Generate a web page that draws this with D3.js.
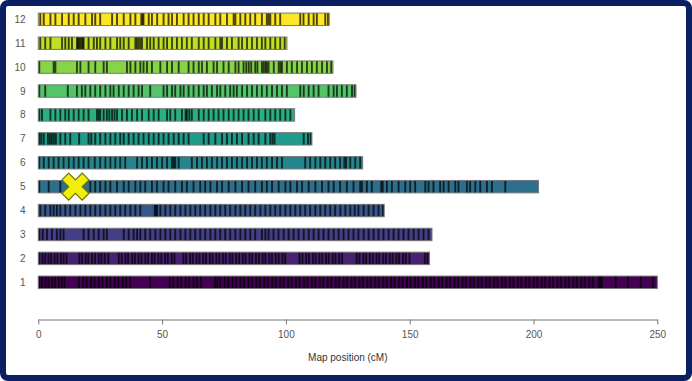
<!DOCTYPE html>
<html>
<head>
<meta charset="utf-8">
<script src="https://cdn.jsdelivr.net/npm/d3@7"></script>
<style>
  html, body { margin: 0; padding: 0; background: #fff; }
  svg { display: block; }
</style>
</head>
<body>
<svg id="chart" width="692" height="381"></svg>
<script>
// ---- data ----
const chromosomes = ["1","2","3","4","5","6","7","8","9","10","11","12"];
const chromLengths = [250, 158, 159, 139.7, 202, 131, 110.5, 103.5, 128.3, 119, 100.4, 117.5];
const axisTicks = [0, 50, 100, 150, 200, 250];
const xTitle = "Map position (cM)";
const qtlMarker = { chrom: "5", pos: 15 };

const markers1 = [0.4,1.5,2.9,4.1,5.6,6.8,8.3,9.5,10.6,16.4,18.1,19.5,21.3,22.7,24.5,25.9,27.7,29.1,30.9,32.3,34.1,35.5,37.1,45.2,53.1,54.5,56.3,57.7,59.5,60.9,62.7,64.1,65.6,71.4,72.3,73.5,75.3,76.7,78.5,79.9,81.7,83.1,84.9,86.3,88.1,89.5,91.3,92.7,94.5,95.9,97.7,99.1,100.9,102.3,104.1,105.5,107.3,108.7,110.5,111.9,113.7,115.1,116.9,118.3,120.1,121.5,123.3,124.7,126.5,127.9,129.7,131.1,132.9,134.3,136.1,137.5,139.3,140.7,142.5,143.9,145.7,147.1,148.9,150.3,152.1,153.5,155.3,156.7,158.5,159.9,161.7,163.1,164.9,166.3,168.1,169.5,171.3,172.7,174.5,175.9,177.7,179.1,180.9,182.3,184.1,185.5,187.3,188.7,190.5,191.9,193.7,195.1,196.9,198.3,200.1,201.5,203.3,204.7,206.5,207.9,209.7,211.1,212.9,214.3,216.1,217.5,219.3,220.7,222.5,223.9,226.4,227.0,227.6,233.2,238.1,243.3,248.2];
const markers2 = [0.4,1.7,2.8,4.1,5.2,6.6,7.7,9.1,10.2,11.4,16.6,17.7,19.1,20.2,21.7,22.9,24.4,25.5,26.8,28.3,32.5,33.7,35.2,36.3,37.9,39.0,40.5,41.7,43.2,44.3,45.9,47.0,48.5,49.7,51.2,52.3,53.9,55.0,58.6,59.7,61.3,62.4,63.9,65.1,66.6,67.7,69.3,70.4,71.9,73.1,74.6,75.7,77.3,78.4,79.9,81.1,82.6,83.7,85.3,86.4,87.9,89.1,90.6,91.7,93.3,94.4,95.9,97.1,98.6,99.7,105.5,106.7,108.2,109.3,110.9,112.0,113.5,114.7,116.2,117.3,118.9,120.0,121.5,122.7,128.6,129.7,131.3,132.4,133.9,135.1,136.6,137.7,139.3,140.4,141.9,143.1,144.6,145.7,147.3,148.4,149.9,156.1,157.2];
const markers3 = [0.4,1.8,3.5,5.5,7.5,8.9,10.2,18.3,20.3,22.4,24.4,26.4,27.7,34.5,36.5,38.5,39.9,41.2,43.2,45.2,47.3,49.3,51.3,53.3,55.3,57.4,59.4,61.4,63.4,65.4,67.4,69.5,71.5,73.5,75.5,77.5,79.6,81.6,83.6,85.6,87.6,90.3,91.7,93.0,95.0,97.0,99.1,101.1,103.1,105.1,107.2,109.2,111.2,113.2,115.2,117.2,119.3,121.3,123.3,125.3,127.3,129.3,131.4,133.4,135.4,137.4,139.4,141.5,143.5,145.5,147.5,149.5,151.6,153.6,155.6,157.6];
const markers4 = [0.8,2.8,4.9,6.2,7.5,8.9,10.9,12.9,15.0,17.0,19.0,21.0,23.0,25.0,27.1,29.1,31.1,33.1,35.1,37.2,39.2,41.2,47.0,47.5,48.0,49.3,51.3,53.3,55.3,57.4,59.4,61.4,63.4,65.4,67.4,69.5,71.5,73.5,75.5,77.5,79.6,81.6,83.6,85.6,87.6,89.7,91.7,93.7,95.7,97.7,99.8,101.8,103.8,105.8,107.8,109.8,111.9,113.9,115.9,117.9,119.9,122.0,124.0,126.0,127.8,129.3,131.4,133.4,135.4,137.4,139.2];
const markers5 = [0.4,4.2,8.9,21.0,23.0,25.0,27.1,29.1,31.8,34.5,36.5,39.2,41.2,43.2,45.9,47.9,50.6,52.6,55.3,58.0,60.0,62.7,65.4,67.4,69.5,72.2,74.2,76.9,79.6,82.3,84.9,87.6,90.3,92.3,94.4,97.1,99.8,101.8,104.5,106.5,109.2,111.9,114.6,117.2,119.3,121.9,124.6,127.3,130.0,130.7,132.7,134.7,138.5,139.1,140.8,142.8,145.5,148.2,150.2,152.2,156.3,157.6,159.6,162.3,163.7,165.7,168.4,169.7,173.1,174.4,176.5,178.5,181.2,183.2,188.6];
const markers6 = [0.4,2.2,4.2,6.2,8.2,10.2,12.3,14.3,16.3,18.3,20.3,22.8,25.0,27.1,29.1,31.1,33.1,35.1,39.9,41.9,43.9,45.9,47.9,50.0,52.0,54.0,54.7,55.3,56.7,62.0,64.1,66.1,68.1,70.1,72.2,74.2,76.2,78.2,80.2,82.3,84.3,86.3,88.3,90.3,92.3,94.4,96.4,98.4,107.8,109.8,111.9,113.9,115.9,117.9,119.9,121.9,123.6,124.3,126.0,128.0,130.0];
const markers7 = [0.4,1.2,2.2,3.9,4.7,5.5,6.3,7.1,8.9,10.9,12.9,16.5,20.3,21.4,23.0,25.0,27.1,29.1,31.1,33.1,34.5,36.5,38.5,40.5,42.5,44.6,46.6,48.6,50.6,52.6,54.7,56.7,58.7,60.7,66.8,68.8,71.5,74.2,76.2,78.2,80.2,82.3,84.9,87.0,89.0,91.7,93.7,94.6,95.4,107.2,108.9,110.0];
const markers8 = [0.4,1.5,4.9,6.9,8.9,10.9,12.3,14.3,16.3,18.3,20.3,23.7,24.4,25.0,26.4,27.7,28.7,29.8,30.8,31.8,33.8,35.8,37.8,39.9,41.9,44.6,46.6,48.6,52.0,53.3,55.3,58.0,59.5,60.0,61.0,62.0,64.8,66.8,68.8,70.8,72.8,74.8,76.9,78.9,80.9,82.9,84.9,87.0,89.0,91.7,93.7,95.7,97.7,99.8,101.8];
const markers9 = [0.4,2.8,11.9,15.6,17.6,19.0,21.0,23.0,25.0,27.1,29.1,30.4,32.5,34.5,36.5,38.5,40.5,41.9,45.2,50.6,52.0,54.0,55.3,57.4,58.7,60.7,62.7,64.8,66.8,68.1,70.1,72.2,73.5,75.5,77.5,78.9,80.2,82.3,84.3,86.3,88.3,90.3,92.3,94.4,96.4,98.4,100.4,105.8,107.2,109.2,111.2,113.2,117.2,119.3,120.6,122.6,124.6,126.7,127.8];
const markers10 = [0.4,6.2,6.9,15.6,17.0,20.3,23.0,26.4,27.7,35.8,37.2,39.2,41.2,42.5,43.9,45.9,49.3,52.0,54.0,56.7,60.7,62.7,64.8,66.1,68.1,70.8,72.2,74.8,76.9,79.6,80.9,82.9,84.0,85.0,86.0,87.6,88.5,90.3,91.0,91.7,92.3,93.0,95.1,97.1,97.8,98.4,100.4,102.4,104.5,106.5,108.5,110.5,112.5,114.6,116.6,118.3];
const markers11 = [0.8,2.8,4.9,9.6,10.9,12.3,13.6,15.6,16.0,16.5,17.0,17.5,18.0,18.3,20.3,22.4,23.7,25.0,27.1,29.1,31.8,33.1,34.5,36.5,39.2,39.8,40.5,41.2,41.9,43.9,45.2,46.6,48.6,50.6,52.0,54.0,56.0,58.0,60.0,62.0,64.8,66.8,68.8,71.5,73.5,74.2,76.2,78.2,80.9,82.3,84.3,86.3,88.3,90.3,91.7,93.7,95.7,97.7,99.5];
const markers12 = [0.8,2.2,4.9,6.9,9.6,12.3,14.3,16.3,19.0,21.7,23.0,25.0,29.8,31.8,34.5,37.2,39.2,41.6,42.1,42.5,44.6,45.9,48.0,50.6,52.6,54.0,56.0,58.7,60.7,62.7,64.8,66.8,68.8,71.5,73.5,76.2,78.9,79.6,81.6,83.6,85.6,87.6,90.3,92.3,93.0,93.7,95.7,97.7,105.8,107.1,109.2,111.2,112.5,115.9,117.0];
const markerSets = [markers1, markers2, markers3, markers4, markers5, markers6, markers7, markers8, markers9, markers10, markers11, markers12];

// ---- layout ----
const W = 692, H = 381;
const svg = d3.select("#chart");
const defs = svg.append("defs");
defs.append("filter").attr("id", "soft")
  .attr("x", "-5%").attr("y", "-20%").attr("width", "110%").attr("height", "140%")
  .append("feGaussianBlur").attr("stdDeviation", 0.55);

// frame
svg.append("rect")
  .attr("x", 3).attr("y", 3).attr("width", W - 6).attr("height", H - 6)
  .attr("rx", 5).attr("ry", 5)
  .attr("fill", "#fff")
  .attr("stroke", "#0b1f63").attr("stroke-width", 6);

const x = d3.scaleLinear().domain([0, 250]).range([38.3, 657.3]);
const y = d3.scaleBand()
  .domain(chromosomes.slice().reverse())
  .range([7.35, 294.25])
  .paddingInner(0.48).paddingOuter(0.24);

const color = i => d3.interpolateViridis(i / (chromosomes.length - 1));

const g = svg.append("g");

chromosomes.forEach((c, i) => {
  const yc = y(c);
  const bh = y.bandwidth();
  const row = g.append("g");
  const clipId = "clip" + c;
  defs.append("clipPath").attr("id", clipId)
    .append("rect")
    .attr("x", x(0)).attr("y", yc)
    .attr("width", x(chromLengths[i]) - x(0)).attr("height", bh);

  row.append("rect")
    .attr("x", x(0)).attr("y", yc)
    .attr("width", x(chromLengths[i]) - x(0)).attr("height", bh)
    .attr("fill", color(i));

  row.append("g").attr("clip-path", `url(#${clipId})`)
    .append("g").attr("filter", "url(#soft)")
    .selectAll("line")
    .data(markerSets[i])
    .join("line")
    .attr("x1", d => x(d)).attr("x2", d => x(d))
    .attr("y1", yc - 2).attr("y2", yc + bh + 2)
    .attr("stroke", "#000")
    .attr("stroke-width", 1.9)
    .attr("stroke-opacity", 0.7);

  row.append("rect")
    .attr("x", x(0)).attr("y", yc)
    .attr("width", x(chromLengths[i]) - x(0)).attr("height", bh)
    .attr("fill", "none")
    .attr("stroke", "#777").attr("stroke-width", 1);

  g.append("text")
    .attr("x", 25.5).attr("y", yc + bh / 2)
    .attr("text-anchor", "end")
    .attr("dominant-baseline", "central")
    .attr("font-family", "Liberation Sans, Arial, sans-serif")
    .attr("font-size", 10)
    .attr("fill", "#555")
    .text(c);
});

// QTL cross marker
svg.append("path")
  .attr("d", d3.symbol().type(d3.symbolCross).size(455)())
  .attr("transform", `translate(${x(qtlMarker.pos)},${y(qtlMarker.chrom) + y.bandwidth() / 2}) rotate(45)`)
  .attr("fill", "#f2ee0c")
  .attr("stroke", "#6f6a1e")
  .attr("stroke-width", 1.2);

// x axis
const axisY = 319.5;
const axis = d3.axisBottom(x).tickValues(axisTicks).tickSize(5).tickSizeOuter(0).tickPadding(6);
const ax = svg.append("g").attr("transform", `translate(0,${axisY})`).call(axis);
ax.select(".domain").attr("stroke", "#777");
ax.selectAll(".tick line").attr("stroke", "#777");
ax.selectAll(".tick text")
  .attr("font-family", "Liberation Sans, Arial, sans-serif")
  .attr("font-size", 10)
  .attr("fill", "#555");

svg.append("text")
  .attr("x", (x(0) + x(250)) / 2).attr("y", 357)
  .attr("text-anchor", "middle")
  .attr("dominant-baseline", "central")
  .attr("font-family", "Liberation Sans, Arial, sans-serif")
  .attr("font-size", 10)
  .attr("fill", "#333")
  .text(xTitle);
</script>
</body>
</html>
